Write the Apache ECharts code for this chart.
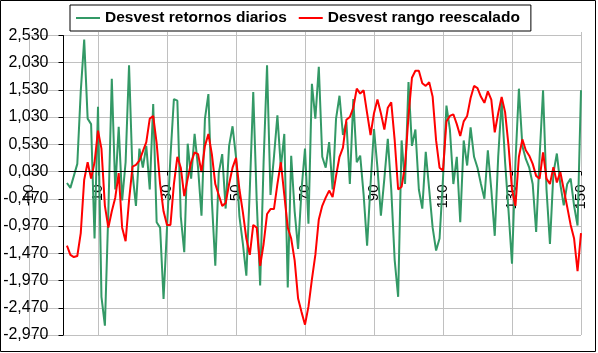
<!DOCTYPE html>
<html>
<head>
<meta charset="utf-8">
<script src="https://cdn.jsdelivr.net/npm/echarts@6/dist/echarts.min.js"></script>
<style>
  html, body { margin: 0; padding: 0; background: #fff; }
  #chart { width: 598px; height: 353px; }
</style>
</head>
<body>
<div id="chart"></div>
<script>
// ---- datos ----
const days = [
  1,2,3,4,5,6,7,8,9,10,11,12,13,14,15,16,17,18,19,20,
  21,22,23,24,25,26,27,28,29,30,31,32,33,34,35,36,37,38,39,40,
  41,42,43,44,45,46,47,48,49,50,51,52,53,54,55,56,57,58,59,60,
  61,62,63,64,65,66,67,68,69,70,71,72,73,74,75,76,77,78,79,80,
  81,82,83,84,85,86,87,88,89,90,91,92,93,94,95,96,97,98,99,100,
  101,102,103,104,105,106,107,108,109,110,111,112,113,114,115,116,117,118,119,120,
  121,122,123,124,125,126,127,128,129,130,131,132,133,134,135,136,137,138,139,140,
  141,142,143,144,145,146,147,148,149,150
];

const retornos = [
  -0.18,-0.27,-0.05,0.17,1.5,2.45,1.0,0.9,-1.2,1.22,
  -2.27,-2.8,-0.7,1.73,-0.3,0.85,-0.5,0.2,1.98,0.0,
  -0.6,0.45,0.1,0.5,-0.3,1.27,-0.9,-1.0,-2.31,-1.0,
  0.3,1.36,1.33,-0.8,-1.45,0.54,-0.1,0.72,0.1,-0.78,
  1.0,1.45,-0.5,-1.7,0.0,0.35,-0.65,0.5,0.86,0.3,
  -0.8,-1.3,-1.88,-0.3,1.49,-0.5,-2.06,0.2,1.98,-0.4,
  0.3,1.06,0.1,0.72,-2.1,0.32,-0.7,-1.39,-0.3,0.45,
  -0.93,1.64,1.0,1.95,0.3,0.1,0.57,-0.3,1.0,1.42,
  0.7,0.94,-0.2,1.36,0.2,0.32,-0.4,-1.33,-0.2,0.81,
  0.1,-0.78,-0.1,0.63,-0.3,-1.6,-2.27,0.6,-0.2,1.67,
  0.5,0.8,-0.3,-0.65,0.39,-0.3,-1.0,-1.42,-1.2,-0.1,
  1.24,0.8,-0.2,0.3,-0.9,0.6,0.14,0.84,0.3,0.1,
  -0.2,-0.47,0.42,-0.3,-1.15,0.3,1.33,0.2,-0.7,-1.66,
  0.2,1.55,0.5,0.26,0.1,-0.2,-1.08,0.3,1.52,-0.3,
  -1.3,0.0,0.36,-0.2,-0.59,-0.2,-0.1,-0.6,-0.96,1.52
];

const rango = [
  -1.33,-1.5,-1.54,-1.52,-1.1,-0.12,0.2,-0.1,0.2,0.78,
  0.45,-0.6,-1.0,-0.7,-0.45,0.0,-1.0,-1.25,-0.5,0.12,
  0.15,0.23,0.4,0.57,1.0,1.05,0.55,-0.2,-0.7,-0.95,
  -0.95,-0.2,0.3,0.1,-0.42,-0.1,0.2,0.38,0.35,0.02,
  0.5,0.72,0.35,-0.2,-0.4,-0.6,-0.55,-0.2,0.1,0.28,
  -0.3,-0.72,-1.2,-1.5,-0.95,-1.0,-1.7,-1.3,-0.75,-0.66,
  -0.66,-0.2,0.2,-0.4,-1.0,-1.2,-1.6,-2.3,-2.55,-2.78,
  -2.45,-1.95,-1.5,-0.85,-0.6,-0.45,-0.32,-0.44,-0.05,0.3,
  0.47,0.98,1.03,1.2,1.55,1.46,1.52,1.1,0.7,1.1,
  1.35,1.1,0.8,1.2,1.3,0.6,-0.3,-0.25,0.14,1.05,
  1.75,1.88,1.88,1.65,1.6,1.67,1.4,0.6,0.1,0.05,
  0.95,1.05,1.08,0.9,0.68,0.95,1.05,1.38,1.6,1.56,
  1.4,1.29,1.5,1.35,0.75,1.1,1.4,1.12,0.5,-0.3,
  -0.6,0.3,0.62,0.42,0.32,0.17,-0.05,-0.1,0.38,-0.1,
  -0.2,0.11,-0.17,0.02,-0.3,-0.62,-0.95,-1.2,-1.8,-1.1
];

const yTicks = [-2.97,-2.47,-1.97,-1.47,-0.97,-0.47,0.03,0.53,1.03,1.53,2.03,2.53];
const yMin = -2.97, yMax = 2.59, yStep = 0.5;
const xMin = -10, xMax = 150, xStep = 20;
const xCross = 0.03;   // el eje horizontal cruza en 0,030
const yCross = 0;      // el eje vertical cruza en x = 0

// ---- gráfico ----
const chart = echarts.init(document.getElementById('chart'));
const font = 'Liberation Sans, Arial, sans-serif';

function yLabel(v) {
  const k = (v - yMin) / yStep;
  if (Math.abs(k - Math.round(k)) > 1e-6 || v > yTicks[yTicks.length - 1] + 1e-6) return '';
  return v.toFixed(3).replace('.', ',');
}

const axisLines = {
  silent: true,
  symbol: ['none', 'none'],
  label: { show: false },
  lineStyle: { color: '#000', width: 1, type: 'solid' },
  emphasis: { disabled: true },
  data: [
    [{ coord: [yCross, xCross] }, { coord: [xMax, xCross] }],
    [{ coord: [yCross, yMin] }, { coord: [yCross, yTicks[yTicks.length - 1]] }]
  ]
};

chart.setOption({
  animation: false,
  textStyle: { fontFamily: font },
  graphic: [{
    type: 'rect',
    shape: { x: 0.5, y: 0.5, width: 595, height: 351 },
    style: { fill: 'none', stroke: '#000', lineWidth: 1 },
    silent: true
  }],
  legend: {
    left: 70, top: 5,
    padding: [5, 11, 5, 6],
    itemGap: 12,
    itemWidth: 24, itemHeight: 2,
    icon: 'rect',
    borderColor: '#000', borderWidth: 1,
    backgroundColor: '#fff',
    textStyle: { fontFamily: font, fontSize: 15.5, fontWeight: 'bold', color: '#000' },
    data: ['Desvest retornos diarios', 'Desvest rango reescalado']
  },
  grid: { left: 29, right: 17, top: 32, bottom: 18, containLabel: false, outerBoundsMode: 'none' },
  xAxis: {
    type: 'value',
    min: xMin, max: xMax, interval: xStep,
    axisLine: { show: false, onZero: false },
    axisTick: { show: true, length: 4, lineStyle: { color: '#000' } },
    axisLabel: { rotate: 90, margin: 13, fontSize: 15, color: '#000', fontFamily: font },
    splitLine: { show: true, lineStyle: { color: '#c0c0c0', width: 1 } }
  },
  yAxis: {
    type: 'value',
    min: yMin, max: yMax, interval: yStep,
    axisLine: { show: false, onZero: false },
    axisTick: { show: true, length: 5, lineStyle: { color: '#000' }, customValues: yTicks },
    axisLabel: { margin: 15, fontSize: 16, color: '#000', fontFamily: font, formatter: yLabel },
    splitLine: { show: true, lineStyle: { color: '#c0c0c0', width: 1 } }
  },
  series: [
    {
      name: 'Desvest retornos diarios',
      type: 'line',
      symbol: 'none',
      data: days.map((d, i) => [d, retornos[i]]),
      lineStyle: { color: '#339966', width: 2 },
      itemStyle: { color: '#339966' },
      markLine: axisLines
    },
    {
      name: 'Desvest rango reescalado',
      type: 'line',
      symbol: 'none',
      data: days.map((d, i) => [d, rango[i]]),
      lineStyle: { color: '#ff0000', width: 2 },
      itemStyle: { color: '#ff0000' }
    }
  ]
});

// ejes: horizontal en y = 0,030 y vertical en x = 0
const bottomPx = chart.convertToPixel({ yAxisIndex: 0 }, yMin);
const crossPx = chart.convertToPixel({ yAxisIndex: 0 }, xCross);
const leftPx = chart.convertToPixel({ xAxisIndex: 0 }, xMin);
const zeroPx = chart.convertToPixel({ xAxisIndex: 0 }, yCross);
chart.setOption({
  xAxis: { offset: -(bottomPx - crossPx) },
  yAxis: { offset: -(zeroPx - leftPx) }
});
</script>
</body>
</html>
